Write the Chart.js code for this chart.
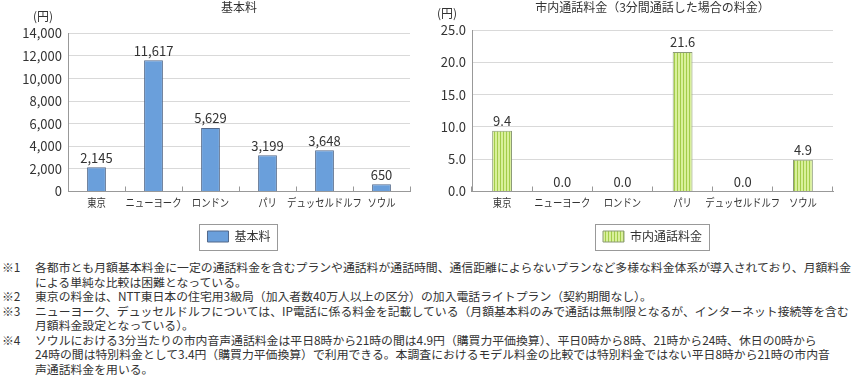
<!DOCTYPE html>
<html>
<head>
<meta charset="utf-8">
<script src="https://cdn.jsdelivr.net/npm/chart.js@4.4.1/dist/chart.umd.min.js"></script>
<style>
body { margin: 0; background: #fff; font-family: "Noto Sans CJK JP", sans-serif; color: #333; }
#wrap { position: relative; width: 855px; height: 375px; overflow: hidden; }
#chart1 { position: absolute; left: 0; top: 0; }
#chart2 { position: absolute; left: 420px; top: 0; }
#notes { position: absolute; left: 0; top: 260px; width: 855px; font-size: 11.85px; line-height: 14.5px; white-space: nowrap; }
.n { position: relative; padding-left: 35px; }
.n span { position: absolute; left: 2px; }
</style>
</head>
<body>
<div id="wrap">
  <canvas id="chart1" width="420" height="255"></canvas>
  <canvas id="chart2" width="435" height="255"></canvas>
  <div id="notes">
    <div class="n"><span>※1</span>各都市とも月額基本料金に一定の通話料金を含むプランや通話料が通話時間、通信距離によらないプランなど多様な料金体系が導入されており、月額料金<br>による単純な比較は困難となっている。</div>
    <div class="n"><span>※2</span>東京の料金は、NTT東日本の住宅用3級局（加入者数40万人以上の区分）の加入電話ライトプラン（契約期間なし）。</div>
    <div class="n"><span>※3</span>ニューヨーク、デュッセルドルフについては、IP電話に係る料金を記載している（月額基本料のみで通話は無制限となるが、インターネット接続等を含む<br>月額料金設定となっている）。</div>
    <div class="n"><span>※4</span>ソウルにおける3分当たりの市内音声通話料金は平日8時から21時の間は4.9円（購買力平価換算）、平日0時から8時、21時から24時、休日の0時から<br>24時の間は特別料金として3.4円（購買力平価換算）で利用できる。本調査におけるモデル料金の比較では特別料金ではない平日8時から21時の市内音<br>声通話料金を用いる。</div>
  </div>
</div>
<script>
// データ
const cities = ['東京', 'ニューヨーク', 'ロンドン', 'パリ', 'デュッセルドルフ', 'ソウル'];
const basicFee = [2145, 11617, 5629, 3199, 3648, 650];
const localCallFee = [9.4, 0.0, 0.0, 21.6, 0.0, 4.9];
const basicTicks = [0, 14000, 2000];   // min, max, step
const callTicks = [0, 25, 5];

const FONT = '"Noto Sans CJK JP", sans-serif';
Chart.defaults.font.family = FONT;
Chart.defaults.color = '#333';

// 棒の上の数値
function valueLabels(fmt) {
    return {
        id: 'valueLabels',
        afterDatasetsDraw(chart) {
            const ctx = chart.ctx;
            const meta = chart.getDatasetMeta(0);
            ctx.save();
            ctx.font = '13px ' + FONT;
            ctx.fillStyle = '#333';
            ctx.textAlign = 'center';
            ctx.textBaseline = 'bottom';
            meta.data.forEach((bar, i) => {
                ctx.fillText(fmt(chart.data.datasets[0].data[i]), bar.x, bar.y - 3);
            });
            ctx.restore();
        }
    };
}

// 都市名（少し詰めて描く）
const cityLabels = {
    id: 'cityLabels',
    afterDraw(chart) {
        const sx = chart.scales.x;
        const ctx = chart.ctx;
        ctx.save();
        ctx.font = '11px ' + FONT;
        ctx.fillStyle = '#333';
        ctx.textAlign = 'center';
        ctx.textBaseline = 'middle';
        chart.data.labels.forEach((lab, i) => {
            ctx.save();
            ctx.translate(sx.getPixelForTick(i), sx.top + 11);
            ctx.scale(0.85, 1);
            ctx.fillText(lab, 0, 0);
            ctx.restore();
        });
        ctx.restore();
    }
};

// (円) と凡例の枠
const extras = {
    id: 'extras',
    afterDraw(chart) {
        const ctx = chart.ctx;
        const area = chart.chartArea;
        ctx.save();
        ctx.font = '12px ' + FONT;
        ctx.fillStyle = '#333';
        ctx.textAlign = 'center';
        ctx.textBaseline = 'middle';
        ctx.fillText('(円)', area.left - 25, area.top - 17);
        const hb = chart.legend.legendHitBoxes[0];
        if (hb) {
            ctx.strokeStyle = '#999';
            ctx.lineWidth = 1;
            const cy = hb.top + hb.height / 2;
            ctx.strokeRect(Math.round(hb.left - 8) + 0.5, Math.round(cy - 13) + 0.5, Math.round(hb.width + 15), 26);
        }
        ctx.restore();
    }
};

function stripes(ctx) {
    const c = document.createElement('canvas');
    c.width = 3; c.height = 4;
    const g = c.getContext('2d');
    g.fillStyle = '#d9f09c';
    g.fillRect(0, 0, 3, 4);
    g.fillStyle = '#a3cc4a';
    g.fillRect(2, 0, 1, 4);
    return ctx.createPattern(c, 'repeat');
}

function makeChart(id, label, values, ticks, fill, border, title, yWidth, padRight, titleBottom, fmtTick, fmtValue) {
    const ctx = document.getElementById(id).getContext('2d');
    return new Chart(ctx, {
        type: 'bar',
        data: {
            labels: cities,
            datasets: [{
                label: label,
                data: values,
                backgroundColor: fill,
                borderColor: border,
                borderWidth: 1,
                barPercentage: 0.33,
                categoryPercentage: 1
            }]
        },
        options: {
            responsive: false,
            animation: false,
            layout: { padding: { left: 0, right: padRight, top: 0, bottom: 2.5 } },
            scales: {
                x: {
                    grid: { display: true, drawOnChartArea: false, drawTicks: true, tickLength: -5, color: '#999', offset: true },
                    border: { color: '#999' },
                    ticks: { display: false },
                    afterFit: s => { s.height = 20; }
                },
                y: {
                    min: ticks[0],
                    max: ticks[1],
                    ticks: { stepSize: ticks[2], padding: 6, color: '#333', font: { size: 13 }, callback: fmtTick },
                    grid: { color: '#d9d9d9', drawTicks: false },
                    border: { color: '#999' },
                    afterFit: s => { s.width = yWidth; }
                }
            },
            plugins: {
                title: {
                    display: true,
                    text: title,
                    fullSize: false,
                    color: '#333',
                    font: { size: 12, weight: 'normal' },
                    padding: { top: 0, bottom: titleBottom }
                },
                legend: {
                    position: 'bottom',
                    fullSize: false,
                    labels: { boxWidth: 21, boxHeight: 11, padding: 19, color: '#333', font: { size: 12 } }
                },
                tooltip: { enabled: false }
            }
        },
        plugins: [valueLabels(fmtValue), cityLabels, extras]
    });
}

makeChart('chart1', '基本料', basicFee, basicTicks, '#6a9fdb', '#53698a', '基本料', 68, 10, 19,
    v => v.toLocaleString('en-US'), v => v.toLocaleString('en-US'));

const ctx2 = document.getElementById('chart2').getContext('2d');
makeChart('chart2', '市内通話料金', localCallFee, callTicks, stripes(ctx2), '#8c9a78', '市内通話料金（3分間通話した場合の料金）', 52, 22, 15.6,
    v => v.toFixed(1), v => v.toFixed(1));
</script>
</body>
</html>
